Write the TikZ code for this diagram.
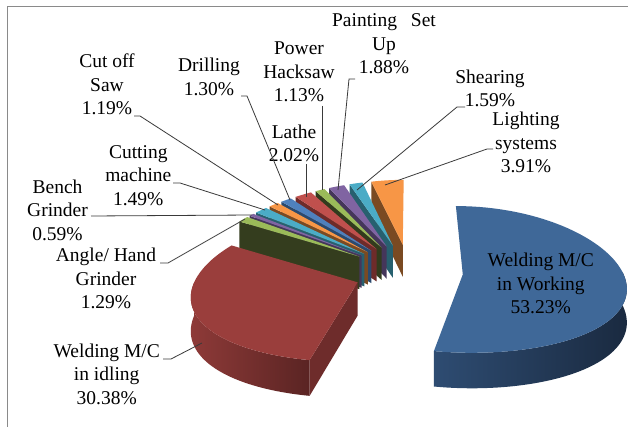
\documentclass[tikz,border=0pt]{standalone}
\usepackage{fontspec}
\setmainfont{Liberation Serif}

% slice colours: top faces and darker cut faces
\definecolor{cblue}{HTML}{4F81BD}   \definecolor{fblue}{HTML}{2B4A6E}
\definecolor{cred}{HTML}{C0504D}    \definecolor{fred}{HTML}{6E2B2A}
\definecolor{cgreen}{HTML}{9BBB59}  \definecolor{fgreen}{HTML}{343D1E}
\definecolor{cpurple}{HTML}{8064A2} \definecolor{fpurple}{HTML}{45365A}
\definecolor{cteal}{HTML}{4BACC6}   \definecolor{fteal}{HTML}{27606F}
\definecolor{corange}{HTML}{F79646} \definecolor{forange}{HTML}{7A4A22}
% the two large slices
\definecolor{wtop}{HTML}{3F6898}  \definecolor{wwallA}{HTML}{2E4C72} \definecolor{wwallB}{HTML}{1A2A40}
\definecolor{itop}{HTML}{9A3E3C}  \definecolor{iwallA}{HTML}{8E3A38} \definecolor{iwallB}{HTML}{5A2423}
\definecolor{iside}{HTML}{6E2C2B}
\definecolor{framegray}{HTML}{8A8A8A}
\definecolor{leadgray}{HTML}{3A3A3A}

% projection of the pie plane (X right, Z back, radius 1) onto the page
\tikzset{
  declare function={
    px(\X,\Z)=410+160*\X/(1+0.15*\Z);
    py(\Z)=272-72.7*\Z/(1+0.068*\Z);
    ph(\Z)=33/(1+0.068*\Z);
  },
  lbl/.style={font=\fontsize{19.5}{23.4}\selectfont, align=center, inner sep=0pt, anchor=base},
  leader/.style={draw=leadgray, line width=0.8pt},
}

% apex of a slice pushed out along its bisector
\newcommand{\setapex}[3]{%
  \pgfmathsetmacro{\ox}{#1*cos((#2+#3)/2)}%
  \pgfmathsetmacro{\oz}{#1*sin((#2+#3)/2)}}
% top face between two angles
\newcommand{\drawtop}[4]{%
  \fill[#3] ({px(\ox,\oz)},{py(\oz)}) -- plot[domain=#1:#2,samples=#4]
    ({px(\ox+cos(\x),\oz+sin(\x))},{py(\oz+sin(\x))}) -- cycle;}
% flat cut face along one radius
\newcommand{\drawside}[2]{%
  \fill[#2] ({px(\ox,\oz)},{py(\oz)})
    -- ({px(\ox+cos(#1),\oz+sin(#1))},{py(\oz+sin(#1))})
    -- ({px(\ox+cos(#1),\oz+sin(#1))},{py(\oz+sin(#1))+ph(\oz+sin(#1))})
    -- ({px(\ox,\oz)},{py(\oz)+ph(\oz)}) -- cycle;}
% curved outer wall
\newcommand{\drawwall}[4]{%
  \shade[left color=#3,right color=#4] plot[domain=#1:#2,samples=50]
    ({px(\ox+cos(\x),\oz+sin(\x))},{py(\oz+sin(\x))})
    -- plot[domain=#2:#1,samples=50]
    ({px(\ox+cos(\x),\oz+sin(\x))},{py(\oz+sin(\x))+ph(\oz+sin(\x))}) -- cycle;}

\begin{document}
\begin{tikzpicture}[x=1pt,y=-1pt]
\useasboundingbox (0,0) rectangle (628,427);
\fill[white] (0,0) rectangle (628,427);

% chart frame
\draw[framegray, line width=1pt] (7,427) -- (7,7) -- (628,7);

% small slices, from the back towards the front
\setapex{0.39}{90}{104.076}      \drawside{104.076}{forange} \drawtop{90}{104.076}{corange}{10}
\setapex{0.39}{104.076}{109.8}   \drawside{109.8}{fteal}     \drawtop{104.076}{109.8}{cteal}{6}
\setapex{0.39}{109.8}{116.568}   \drawside{116.568}{fpurple} \drawtop{109.8}{116.568}{cpurple}{6}
\setapex{0.39}{116.568}{120.636} \drawside{120.636}{fgreen!70!cgreen!60!black} \drawtop{116.568}{120.636}{cgreen}{5}
\setapex{0.39}{120.636}{127.908} \drawside{127.908}{fred}    \drawtop{120.636}{127.908}{cred}{6}
\setapex{0.39}{127.908}{132.588} \drawside{132.588}{fblue}   \drawtop{127.908}{132.588}{cblue}{5}
\setapex{0.39}{132.588}{136.872} \drawside{136.872}{forange} \drawtop{132.588}{136.872}{corange}{5}
\setapex{0.39}{136.872}{142.236} \drawside{142.236}{fteal}   \drawtop{136.872}{142.236}{cteal}{5}
\setapex{0.39}{142.236}{144.36}  \drawside{144.36}{fpurple}  \drawtop{142.236}{144.36}{cpurple}{4}
\setapex{0.39}{144.36}{149.004}  \drawside{149.004}{fgreen}  \drawtop{144.36}{149.004}{cgreen}{5}

% Welding M/C in idling
\setapex{0.35}{149.004}{258.372}
\drawwall{180}{258.372}{iwallA}{iwallB}
\drawside{258.372}{iside}
\drawtop{149.004}{258.372}{itop}{60}

% Welding M/C in Working
\setapex{0.33}{-101.628}{90}
\drawwall{-101.628}{2}{wwallA}{wwallB}
\drawtop{-101.628}{90}{wtop}{80}

% labels (placed at the baseline of their last line)
\node[lbl] (cutoff)  at (107,114.8)   {Cut off\\Saw\\1.19\%};
\node[lbl] (drill)   at (209,95.1)    {Drilling\\1.30\%};
\node[lbl] (power)   at (299,101.8)   {Power\\Hacksaw\\1.13\%};
\node[lbl] (lathe)   at (294,161.7)   {Lathe\\2.02\%};
\node[lbl] (paint)   at (384,73.5)    {Painting\hspace{9pt} Set\\Up\\1.88\%};
\node[lbl] (shear)   at (490,106.7)   {Shearing\\1.59\%};
\node[lbl] (light)   at (526,172.8)   {Lighting\\systems\\3.91\%};
\node[lbl] (cutting) at (138.3,205.1) {Cutting\\machine\\1.49\%};
\node[lbl] (bench)   at (57.5,240.1)  {Bench\\Grinder\\0.59\%};
\node[lbl] (angle)   at (106,308.5)   {Angle/ Hand\\Grinder\\1.29\%};
\node[lbl] (idle)    at (106.7,404.1) {Welding M/C\\in idling\\30.38\%};
\node[lbl] (work)    at (540.8,313.5) {Welding M/C\\in Working\\53.23\%};

% leader ends on the slices
\coordinate (p-cutoff)  at (278,205);
\coordinate (p-drill)   at (290,200);
\coordinate (p-power)   at (322,190);
\coordinate (p-lathe)   at (306,197);
\coordinate (p-paint)   at (338,190);
\coordinate (p-shear)   at (357,190);
\coordinate (p-light)   at (385,185);
\coordinate (p-cutting) at (265,210);
\coordinate (p-bench)   at (252,215);
\coordinate (p-angle)   at (245,219);
\coordinate (p-idle)    at (202,343);

% leader lines
\draw[leader] ([shift={(27,1.2)}]cutoff.base) -- ++(6,0) -- (p-cutoff);
\draw[leader] ([shift={(32,0.9)}]drill.base) -- ++(6,0) -- (p-drill);
\draw[leader] ([shift={(23,4.2)}]power.base) -- (p-power);
\draw[leader] ([shift={(12,2.3)}]lathe.base) -- (p-lathe);
\draw[leader] ([shift={(-29,5.5)}]paint.base) -- ++(-6,0) -- (p-paint);
\draw[leader] ([shift={(-25,0.3)}]shear.base) -- ++(-8,0) -- (p-shear);
\draw[leader] ([shift={(-33,-23.8)}]light.base) -- ++(-6,0) -- (p-light);
\draw[leader] ([shift={(34.7,-22.1)}]cutting.base) -- ++(7,0) -- (p-cutting);
\draw[leader] ([shift={(33.5,-24.1)}]bench.base) -- (p-bench);
\draw[leader] ([shift={(54,-45.5)}]angle.base) -- ++(8,0) -- (p-angle);
\draw[leader] ([shift={(56.3,-45.1)}]idle.base) -- ++(8,0) -- (p-idle);
\end{tikzpicture}
\end{document}
